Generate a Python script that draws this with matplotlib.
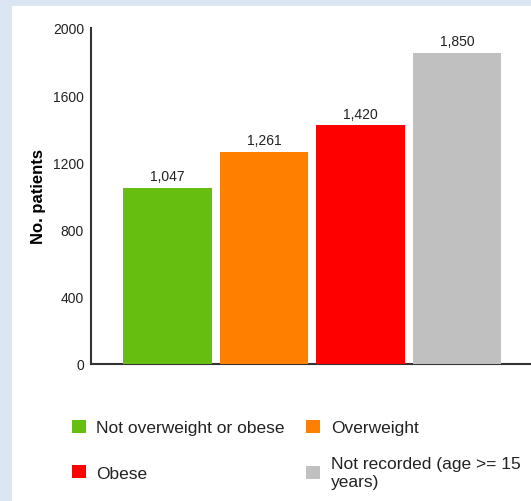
import matplotlib.pyplot as plt
from matplotlib.patches import Rectangle

# patients by weight category
categories = ['Not overweight or obese', 'Overweight', 'Obese', 'Not recorded (age >= 15\nyears)']
patients = [1047, 1261, 1420, 1850]
colors = ['#66bf10', '#ff8000', '#ff0000', '#c0c0c0']
yticks = [0, 400, 800, 1200, 1600, 2000]

plt.rcParams['font.family'] = ['Liberation Sans', 'DejaVu Sans']

fig = plt.figure(figsize=(5.31, 5.02), dpi=100)
fig.patch.set_facecolor('#dce6f2')
# white panel inside the light blue frame
fig.patches.append(Rectangle((12 / 531, 0), 1, 1 - 7 / 502, transform=fig.transFigure,
                             facecolor='white', edgecolor='none', zorder=-1))

ax = fig.add_axes([91 / 531, 137 / 502, 440 / 531, 336 / 502])
ax.set_facecolor('none')

x = list(range(len(patients)))
bars = ax.bar(x, patients, width=0.922, color=colors, zorder=3)
for xi, v in zip(x, patients):
    ax.annotate(f'{v:,}', (xi, v), xytext=(0, 3.5), textcoords='offset points',
                ha='center', va='bottom', fontsize=10, color='#222222')

ax.set_xlim(-0.793, 3.767)
ax.set_ylim(0, 2000)
ax.set_yticks(yticks)
ax.set_xticks([])
ax.tick_params(axis='y', length=0, pad=5, labelsize=10, labelcolor='#222222')
for s in ['top', 'right']:
    ax.spines[s].set_visible(False)
for s in ['left', 'bottom']:
    ax.spines[s].set_color('#333333')
    ax.spines[s].set_linewidth(1.5)

ax.set_ylabel('No. patients', fontsize=12, fontweight='bold', labelpad=5)

# legend in two columns, each its own box so the rows line up by centre
leg_opts = dict(loc='upper left', frameon=False, fontsize=12.5, handlelength=0.8,
                handleheight=0.8, handletextpad=0.6, labelcolor='#222222')
leg1 = ax.legend([bars[0], bars[2]], [categories[0], categories[2]],
                 bbox_to_anchor=(-0.079, -0.119), labelspacing=1.72, **leg_opts)
ax.add_artist(leg1)
ax.legend([bars[1], bars[3]], [categories[1], categories[3]],
          bbox_to_anchor=(0.454, -0.119), labelspacing=1.2, **leg_opts)

fig.savefig('out.png', dpi=100)
